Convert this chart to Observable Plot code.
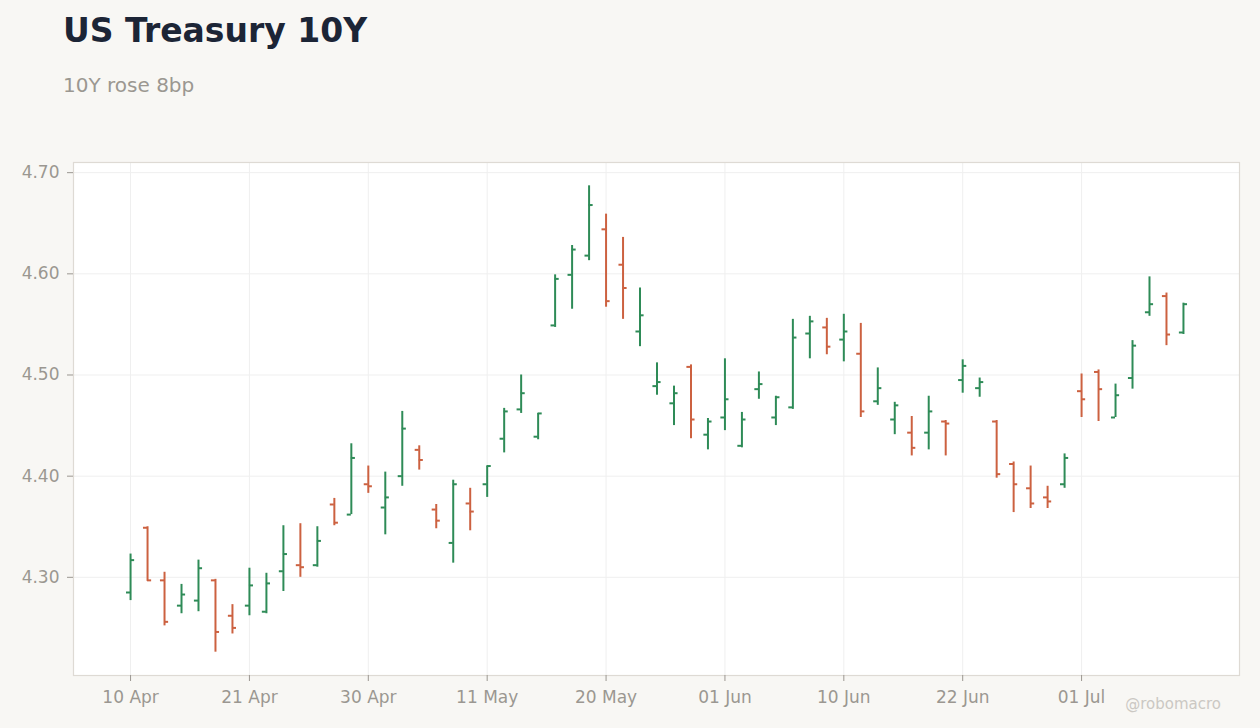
<!DOCTYPE html>
<html>
<head>
<meta charset="utf-8">
<script src="https://cdn.jsdelivr.net/npm/d3@7"></script>
<script src="https://cdn.jsdelivr.net/npm/@observablehq/plot@0.6"></script>
<style>
  html, body { margin: 0; padding: 0; background: #f8f7f4; }
  #wrap { position: relative; width: 1260px; height: 728px; background: #f8f7f4; font-family: "DejaVu Sans", sans-serif; }
  #title { position: absolute; left: 63px; top: 14px; font-size: 33px; line-height: 1; font-weight: bold; color: #1c2536; white-space: nowrap; }
  #subtitle { position: absolute; left: 63px; top: 75px; font-size: 20px; line-height: 1; color: #9b9791; white-space: nowrap; }
  #credit { position: absolute; right: 39px; top: 697px; font-size: 15px; line-height: 1; color: #cbc8c3; white-space: nowrap; }
  svg { position: absolute; left: 0; top: 0; }
</style>
</head>
<body>
<div id="wrap">
  <div id="chart"></div>
  <div id="title">US Treasury 10Y</div>
  <div id="subtitle">10Y rose 8bp</div>
  <div id="credit">@robomacro</div>
</div>
<script>
// Tick labels, one every 7 bars
const tickLabels = ["10 Apr", "21 Apr", "30 Apr", "11 May", "20 May", "01 Jun", "10 Jun", "22 Jun", "01 Jul"];
const tickStep = 7;

// OHLC series (percent)
const open  = [4.285,4.349,4.297,4.272,4.277,4.297,4.262,4.272,4.266,4.306,
               4.312,4.312,4.372,4.362,4.392,4.369,4.400,4.426,4.367,4.334,
               4.373,4.392,4.437,4.466,4.439,4.549,4.599,4.618,4.644,4.609,
               4.543,4.489,4.472,4.508,4.441,4.458,4.430,4.486,4.458,4.468,
               4.541,4.547,4.535,4.521,4.474,4.456,4.443,4.443,4.454,4.495,
               4.487,4.454,4.412,4.388,4.379,4.392,4.484,4.503,4.458,4.497,
               4.562,4.578,4.542];
const high  = [4.323,4.350,4.305,4.293,4.317,4.298,4.273,4.309,4.304,4.351,
               4.353,4.350,4.378,4.432,4.410,4.404,4.464,4.430,4.372,4.396,
               4.388,4.410,4.467,4.500,4.462,4.599,4.628,4.687,4.659,4.636,
               4.586,4.512,4.489,4.510,4.457,4.516,4.463,4.503,4.479,4.555,
               4.558,4.556,4.560,4.551,4.507,4.473,4.459,4.479,4.455,4.515,
               4.497,4.455,4.414,4.410,4.390,4.422,4.501,4.505,4.491,4.534,
               4.597,4.581,4.571];
const low   = [4.277,4.296,4.252,4.264,4.266,4.226,4.244,4.262,4.264,4.286,
               4.300,4.310,4.351,4.362,4.383,4.342,4.390,4.406,4.348,4.314,
               4.346,4.379,4.423,4.462,4.436,4.547,4.565,4.613,4.567,4.555,
               4.528,4.480,4.450,4.437,4.426,4.445,4.428,4.476,4.450,4.466,
               4.516,4.520,4.513,4.458,4.470,4.441,4.420,4.426,4.420,4.482,
               4.478,4.398,4.364,4.368,4.368,4.388,4.458,4.454,4.458,4.486,
               4.558,4.529,4.540];
const close = [4.317,4.297,4.256,4.283,4.309,4.246,4.250,4.292,4.294,4.323,
               4.310,4.336,4.354,4.418,4.390,4.379,4.447,4.416,4.356,4.392,
               4.365,4.410,4.464,4.482,4.462,4.595,4.624,4.668,4.573,4.586,
               4.559,4.493,4.482,4.456,4.454,4.476,4.456,4.491,4.478,4.537,
               4.553,4.528,4.543,4.464,4.487,4.470,4.428,4.464,4.452,4.509,
               4.493,4.402,4.392,4.373,4.375,4.418,4.476,4.486,4.480,4.529,
               4.570,4.540,4.570];
const yTicks = [4.30, 4.40, 4.50, 4.60, 4.70];

const UP = "#2e8b57", DOWN = "#cc6140";
const bars = open.map((o, i) => ({i, open: o, high: high[i], low: low[i], close: close[i]}));
const xTicks = tickLabels.map((_, k) => k * tickStep);

const lo = d3.min(low), hi = d3.max(high), pad = (hi - lo) * 0.05;
const tickHalf = 0.24;
const col = d => d.close >= d.open ? UP : DOWN;

const chart = Plot.plot({
  width: 1260,
  height: 728,
  marginTop: 162,
  marginRight: 21,
  marginBottom: 53,
  marginLeft: 73,
  style: {background: "transparent", fontFamily: "DejaVu Sans, sans-serif", fontSize: "17px", color: "#9b9791", overflow: "visible"},
  x: {domain: [-3.36, 65.3]},
  y: {domain: [lo - pad, hi + pad]},
  marks: [
    Plot.frame({fill: "white", stroke: null}),
    Plot.gridY(yTicks, {stroke: "#efefef", strokeOpacity: 1}),
    Plot.gridX(xTicks, {stroke: "#efefef", strokeOpacity: 1}),
    Plot.frame({stroke: "#dedad4", strokeWidth: 1.2}),
    Plot.axisY(yTicks, {tickFormat: d3.format(".2f"), tickSize: 6, tickPadding: 8, stroke: "#9b9791", fill: "#9b9791", label: null}),
    Plot.axisX(xTicks, {tickFormat: v => tickLabels[v / tickStep], tickSize: 6, tickPadding: 9, stroke: "#9b9791", fill: "#9b9791", label: null}),
    Plot.ruleX(bars, {x: "i", y1: "low", y2: "high", stroke: col, strokeWidth: 2}),
    Plot.ruleY(bars, {y: "open", x1: d => d.i - tickHalf, x2: "i", stroke: col, strokeWidth: 2}),
    Plot.ruleY(bars, {y: "close", x1: "i", x2: d => d.i + tickHalf, stroke: col, strokeWidth: 2})
  ]
});
document.getElementById("chart").appendChild(chart);
</script>
</body>
</html>
